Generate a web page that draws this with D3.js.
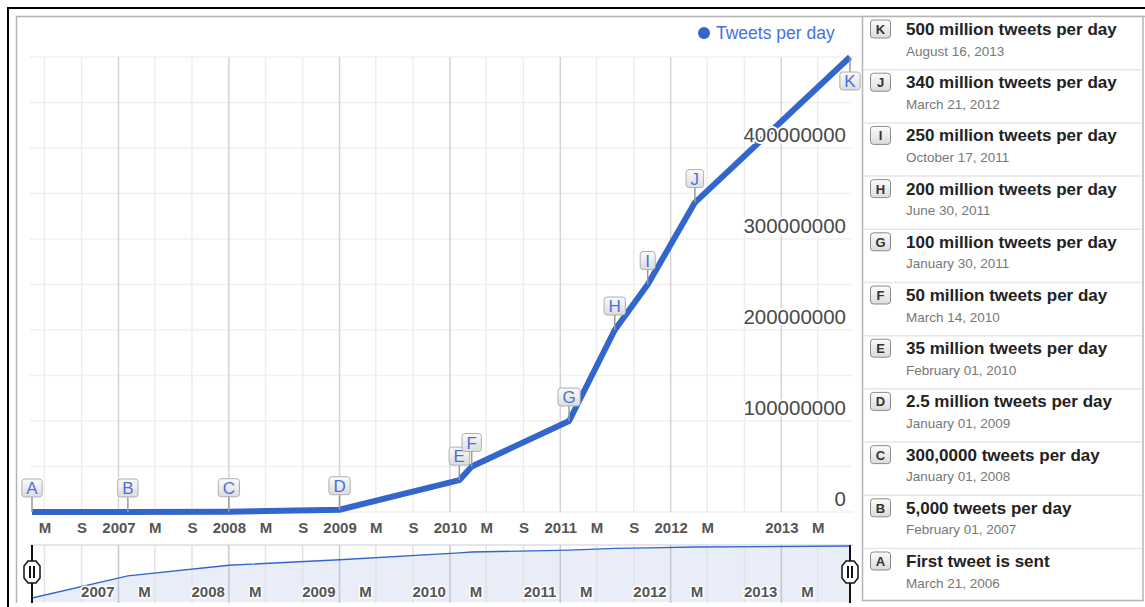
<!DOCTYPE html>
<html>
<head>
<meta charset="utf-8">
<script src="https://cdn.jsdelivr.net/npm/d3@7"></script>
<style>
  html, body { margin: 0; padding: 0; background: #fff; }
  svg { display: block; font-family: Arial, "Liberation Sans", sans-serif; }
</style>
</head>
<body>
<svg id="chart" width="1145" height="607"></svg>
<script>
// ---------- data ----------
const seriesName = "Tweets per day";
const letters = ["A", "B", "C", "D", "E", "F", "G", "H", "I", "J", "K"];
const dates = ["2006-03-21", "2007-02-01", "2008-01-01", "2009-01-01", "2010-02-01", "2010-03-14",
               "2011-01-30", "2011-06-30", "2011-10-17", "2012-03-21", "2013-08-16"];
const values = [1, 5000, 300000, 2500000, 35000000, 50000000,
                100000000, 200000000, 250000000, 340000000, 500000000];
const titles = ["First tweet is sent", "5,000 tweets per day", "300,0000 tweets per day",
                "2.5 million tweets per day", "35 million tweets per day", "50 million tweets per day",
                "100 million tweets per day", "200 million tweets per day", "250 million tweets per day",
                "340 million tweets per day", "500 million tweets per day"];
const dateLabels = ["March 21, 2006", "February 01, 2007", "January 01, 2008", "January 01, 2009",
                    "February 01, 2010", "March 14, 2010", "January 30, 2011", "June 30, 2011",
                    "October 17, 2011", "March 21, 2012", "August 16, 2013"];
const yTickValues = [0, 100000000, 200000000, 300000000, 400000000];
const yGridValues = [0, 50000000, 100000000, 150000000, 200000000, 250000000, 300000000,
                     350000000, 400000000, 450000000, 500000000];
const monthLetters = {4: "M", 8: "S"};
const hiddenTickLabels = ["2012-09-01"];

// ---------- setup ----------
const parse = d3.timeParse("%Y-%m-%d");
const pts = dates.map((d, i) => ({date: parse(d), value: values[i], letter: letters[i],
                                  title: titles[i], dateLabel: dateLabels[i]}));
const svg = d3.select("#chart");
const blue = "#3366cc";

const x = d3.scaleTime().domain([parse(dates[0]), parse(dates[dates.length - 1])]).range([32, 850]);
const y = d3.scaleLinear().domain([0, 500000000]).range([512, 57]);
const yNav = d3.scaleLog().domain([1, 500000000]).range([598, 546]);

const defs = svg.append("defs");
const grad = defs.append("linearGradient").attr("id", "flagGrad").attr("x1", 0).attr("x2", 0).attr("y1", 0).attr("y2", 1);
grad.append("stop").attr("offset", "0%").attr("stop-color", "#fbfbfb");
grad.append("stop").attr("offset", "100%").attr("stop-color", "#dcdcdc");
defs.append("clipPath").attr("id", "plotClip").append("rect").attr("x", 17).attr("y", 17).attr("width", 845).attr("height", 590);

// ---------- frames ----------
svg.append("path").attr("d", "M8,607 V8 H1145").attr("fill", "none").attr("stroke", "#000").attr("stroke-width", 2);
svg.append("path").attr("d", "M16.5,603 V16.5 H1145").attr("fill", "none").attr("stroke", "#b4b4b4").attr("stroke-width", 1.5);

const plot = svg.append("g").attr("clip-path", "url(#plotClip)");

// ---------- grid ----------
const monthTicks = d3.timeMonth.every(4).range(d3.timeMonth.ceil(x.domain()[0]), x.domain()[1]);
plot.append("g").selectAll("line").data(yGridValues).join("line")
  .attr("x1", 30).attr("x2", 853)
  .attr("y1", d => y(d)).attr("y2", d => y(d))
  .attr("stroke", "#f0f0f5").attr("stroke-width", 1.5);
plot.append("g").selectAll("line").data(monthTicks).join("line")
  .attr("x1", d => x(d)).attr("x2", d => x(d))
  .attr("y1", 57).attr("y2", 512)
  .attr("stroke", d => d.getMonth() === 0 ? "#d4d4d8" : "#ededf0")
  .attr("stroke-width", 1.5);

// ---------- y labels ----------
const yAxis = d3.axisLeft(y).tickValues(yTickValues).tickSize(0).tickPadding(0).tickFormat(d3.format("d"));
const yG = plot.append("g").attr("transform", "translate(846,-14)").call(yAxis);
yG.select(".domain").remove();

// ---------- main line ----------
const line = d3.line().x(d => x(d.date)).y(d => y(d.value));
plot.append("path").datum(pts).attr("d", line)
  .attr("fill", "none").attr("stroke", blue).attr("stroke-width", 6)
  .attr("stroke-linejoin", "round");

// style y labels with halo, drawn after line
yG.raise();
yG.selectAll("text")
  .attr("font-size", 20.5).attr("fill", "#4a4a4a")
  .attr("font-family", "Arial, 'Liberation Sans', sans-serif")
  .attr("stroke", "#fff").attr("stroke-width", 4).attr("paint-order", "stroke")
  .attr("dy", "0.35em");

// ---------- flags ----------
const flags = plot.append("g");
pts.forEach((p, i) => {
  const px = x(p.date), py = y(p.value);
  const below = i === pts.length - 1;
  const g = flags.append("g");
  const t = g.append("text").text(p.letter).attr("font-size", 17).attr("fill", "#4a6fdc")
    .attr("text-anchor", "middle");
  const w = Math.max(t.node().getComputedTextLength() + 9, 15);
  const h = 18, stem = 15;
  const boxTop = below ? py + stem : py - stem - h;
  g.insert("line", "text").attr("x1", px).attr("x2", px)
    .attr("y1", below ? py : py - stem).attr("y2", below ? py + stem : py)
    .attr("stroke", "#9a9a9a").attr("stroke-width", 1.5);
  g.insert("rect", "text").attr("x", px - w / 2).attr("y", boxTop).attr("width", w).attr("height", h)
    .attr("rx", 3).attr("fill", "url(#flagGrad)").attr("stroke", "#b0b0b0").attr("stroke-width", 1);
  t.attr("x", px).attr("y", boxTop + h / 2 + 6);
});

// ---------- legend ----------
svg.append("circle").attr("cx", 704).attr("cy", 33).attr("r", 6).attr("fill", blue);
svg.append("text").attr("x", 716).attr("y", 39).text(seriesName)
  .attr("font-size", 17.5).attr("fill", "#4a6fdc");

// ---------- x axis labels ----------
const fmtLabel = d => d.getMonth() === 0 ? d3.timeFormat("%Y")(d) : monthLetters[d.getMonth()];
const xAxis = d3.axisBottom(x)
  .tickValues(monthTicks.filter(d => !hiddenTickLabels.includes(d3.timeFormat("%Y-%m-%d")(d))))
  .tickSize(0).tickPadding(0).tickFormat(fmtLabel);
const xG = svg.append("g").attr("transform", "translate(0,522)").call(xAxis);
xG.select(".domain").remove();
xG.selectAll("text").attr("font-size", 15).attr("font-weight", "bold").attr("fill", "#555")
  .attr("font-family", "Arial, 'Liberation Sans', sans-serif");

// ---------- navigator ----------
const nav = svg.append("g");
nav.append("line").attr("x1", 30).attr("x2", 853).attr("y1", 545).attr("y2", 545)
  .attr("stroke", "#dcdce4").attr("stroke-width", 1.5);
const area = d3.area().x(d => x(d.date)).y0(602).y1(d => yNav(d.value));
nav.append("path").datum(pts).attr("d", area).attr("fill", "#e8edf8");
nav.append("g").selectAll("line").data(monthTicks).join("line")
  .attr("x1", d => x(d)).attr("x2", d => x(d)).attr("y1", 545).attr("y2", 603)
  .attr("stroke", d => d.getMonth() === 0 ? "#c6c6cc" : "#e2e2e8").attr("stroke-width", 1.5);
nav.append("path").datum(pts).attr("d", d3.line().x(d => x(d.date)).y(d => yNav(d.value)))
  .attr("fill", "none").attr("stroke", blue).attr("stroke-width", 1.3);
const navTicks = monthTicks.filter(d => d.getMonth() !== 8 && d.getFullYear() >= 2007);
nav.append("g").selectAll("text").data(navTicks).join("text")
  .attr("x", d => x(d) - 4).attr("y", 597).attr("text-anchor", "end")
  .text(fmtLabel)
  .attr("font-size", 15).attr("font-weight", "bold").attr("fill", "#555")
  .attr("stroke", "#fff").attr("stroke-width", 3).attr("paint-order", "stroke");

// handles
x.range().forEach(hx => {
  nav.append("line").attr("x1", hx).attr("x2", hx).attr("y1", 545).attr("y2", 603)
    .attr("stroke", "#111").attr("stroke-width", 2);
  const cy = 572;
  nav.append("path")
    .attr("d", `M${hx - 4},${cy - 11} L${hx + 4},${cy - 11} L${hx + 8},${cy - 6} L${hx + 8},${cy + 6} L${hx + 4},${cy + 11} L${hx - 4},${cy + 11} L${hx - 8},${cy + 6} L${hx - 8},${cy - 6} Z`)
    .attr("fill", "#fff").attr("stroke", "#111").attr("stroke-width", 1.5);
  [-2, 2].forEach(o => nav.append("rect").attr("x", hx + o - 1).attr("y", cy - 6).attr("width", 2).attr("height", 12).attr("fill", "#111"));
});

// ---------- annotation panel ----------
const panel = svg.append("g");
panel.append("rect").attr("x", 862.5).attr("y", 16.5).attr("width", 280.5).attr("height", 584)
  .attr("fill", "#fff").attr("stroke", "#b4b4b4").attr("stroke-width", 1.5);
const rowH = 53.2;
const ordered = pts.slice().reverse();
ordered.forEach((p, i) => {
  const top = 16.5 + i * rowH;
  if (i > 0) panel.append("line").attr("x1", 863).attr("x2", 1142).attr("y1", top).attr("y2", top)
    .attr("stroke", "#e6e6e6").attr("stroke-width", 1.5);
  panel.append("rect").attr("x", 870.5).attr("y", top + 3.5).attr("width", 20).attr("height", 18)
    .attr("rx", 3).attr("fill", "url(#flagGrad)").attr("stroke", "#8a8a8a").attr("stroke-width", 1);
  panel.append("text").attr("x", 880.5).attr("y", top + 17.5).attr("text-anchor", "middle")
    .attr("font-size", 13).attr("font-weight", "bold").attr("fill", "#333").text(p.letter);
  panel.append("text").attr("x", 906).attr("y", top + 18.5)
    .attr("font-size", 17).attr("font-weight", "bold").attr("fill", "#222").text(p.title);
  panel.append("text").attr("x", 906).attr("y", top + 39)
    .attr("font-size", 13.5).attr("fill", "#777").text(p.dateLabel);
});
</script>
</body>
</html>
